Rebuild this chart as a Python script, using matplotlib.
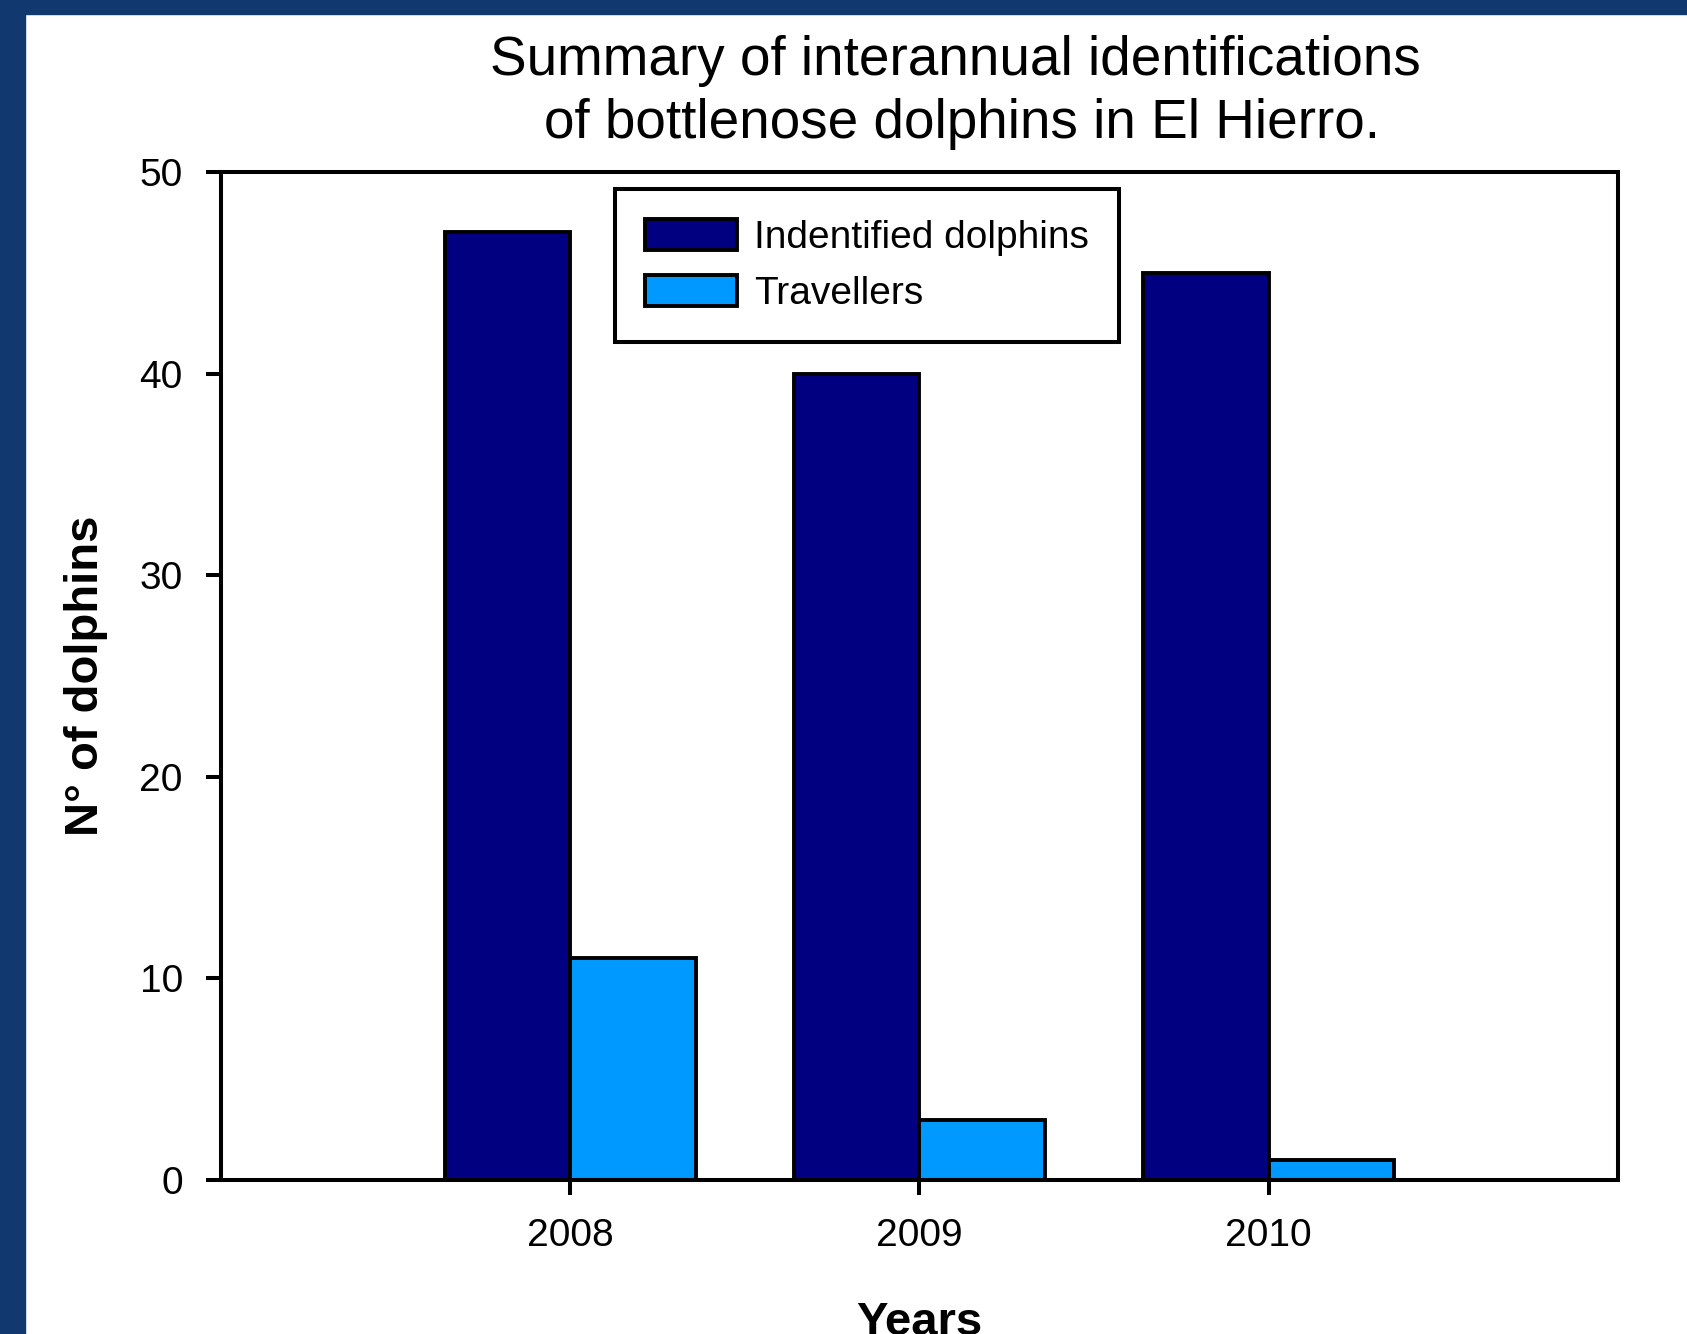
import matplotlib
matplotlib.use("Agg")
import matplotlib.pyplot as plt
from matplotlib.patches import Rectangle
import numpy as np

plt.rcParams['font.family'] = ['Liberation Sans', 'DejaVu Sans']

years = ['2008', '2009', '2010']
identified = [47, 40, 45]
travellers = [11, 3, 1]

dark = '#000080'
light = '#0099FF'
frame = '#12396F'

W, H = 1687, 1334
fig = plt.figure(figsize=(W / 100, H / 100), dpi=100)
fig.patch.set_facecolor('white')

# blue slide frame (top and left edges)
fig.patches.append(Rectangle((0, 1 - 14 / H), 1, 14 / H, transform=fig.transFigure,
                             color=frame, zorder=0))
fig.patches.append(Rectangle((0, 0), 25 / W, 1, transform=fig.transFigure,
                             color=frame, zorder=0))

ax = fig.add_axes([221 / W, 1 - 1180 / H, (1618 - 221) / W, (1180 - 172) / H])

x = np.arange(1, len(years) + 1)
w = 0.36
ax.bar(x - w, identified, width=w, align='edge', color=dark, edgecolor='black',
       linewidth=2.8, label='Indentified dolphins')
ax.bar(x, travellers, width=w, align='edge', color=light, edgecolor='black',
       linewidth=2.8, label='Travellers')

ax.set_xlim(0, 4)
ax.set_ylim(0, 50)
ax.set_xticks(x)
ax.set_xticklabels(years)
ax.set_yticks(np.arange(0, 51, 10))

for s in ax.spines.values():
    s.set_linewidth(2.9)
ax.tick_params(axis='both', direction='out', length=10.5, width=2.9,
               labelsize=28, pad=17, top=False, right=False)

ax.set_ylabel('N° of dolphins', fontsize=34, fontweight='bold')
ax.yaxis.set_label_coords(-0.081, 0.5)
ax.set_xlabel('Years', fontsize=34, fontweight='bold')
ax.xaxis.set_label_coords(0.5, -0.12)

leg = ax.legend(loc='upper left', bbox_to_anchor=((615 - 221) / 1397, (1180 - 189) / 1008),
                borderaxespad=0, fontsize=28, frameon=True, fancybox=False, framealpha=1,
                handlelength=2.35, handleheight=0.82, labelspacing=0.5,
                handletextpad=0.45, borderpad=0.78)
leg.get_frame().set_edgecolor('black')
leg.get_frame().set_linewidth(2.9)

fig.text(955 / W, 1 - 75 / H, 'Summary of interannual identifications',
         ha='center', va='baseline', fontsize=39.5)
fig.text(962 / W, 1 - 138 / H, 'of bottlenose dolphins in El Hierro.',
         ha='center', va='baseline', fontsize=39.5)

fig.savefig('out.png', dpi=100)
